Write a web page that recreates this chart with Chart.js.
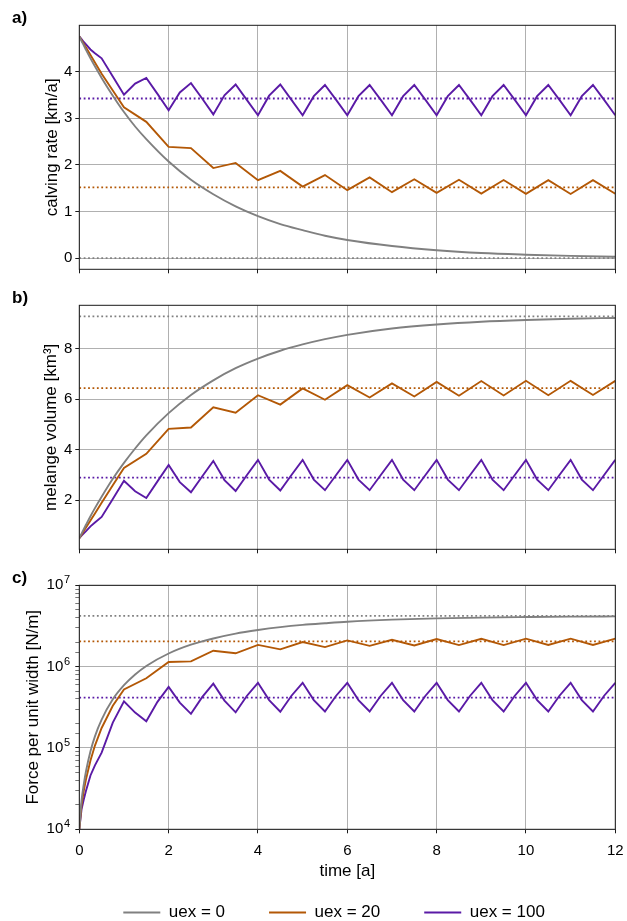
<!DOCTYPE html>
<html><head><meta charset="utf-8">
<script src="https://cdn.jsdelivr.net/npm/chart.js@4/dist/chart.umd.min.js"></script>
<style>
html,body{margin:0;padding:0;background:#fff;}
body{width:627px;height:921px;position:relative;overflow:hidden;font-family:"Liberation Sans",Arial,sans-serif;}
canvas{position:absolute;left:0;}
.lbl{position:absolute;font-weight:bold;font-size:17px;line-height:17px;color:#000;}
</style></head><body>
<canvas id="ca" width="627" height="280" style="top:0;width:627px;height:280px"></canvas>
<canvas id="cb" width="627" height="280" style="top:280px;width:627px;height:280px"></canvas>
<canvas id="cc" width="627" height="371" style="top:560px;width:627px;height:371px"></canvas>
<div class="lbl" style="left:12px;top:9px">a)</div>
<div class="lbl" style="left:12px;top:289px">b)</div>
<div class="lbl" style="left:12px;top:569px">c)</div>
<script>
// ---------------- data ----------------
const seriesLabels = ['uex = 0', 'uex = 20', 'uex = 100'];
const timeRange = [0, 12];
const xTicks = [0, 2, 4, 6, 8, 10, 12];

const timeGray = [0,0.05,0.1,0.15,0.25,0.35,0.5,0.75,1,1.25,1.5,2,2.5,3,3.5,4,4.5,5,5.5,6,7,8,9,10,11,12];
const calvGray = [4.75,4.65,4.56,4.46,4.28,4.11,3.86,3.48,3.13,2.82,2.55,2.07,1.68,1.37,1.11,0.90,0.73,0.60,0.48,0.39,0.26,0.17,0.11,0.075,0.05,0.03];
const volGray = [0.50,0.68,0.86,1.03,1.37,1.69,2.14,2.85,3.48,4.05,4.57,5.45,6.17,6.75,7.23,7.61,7.92,8.17,8.38,8.55,8.80,8.96,9.07,9.14,9.19,9.22];
const forceGray = [1.0e4,2.26e4,3.57e4,5.17e4,9.1e4,1.39e5,2.23e5,3.96e5,5.91e5,8.0e5,1.02e6,1.45e6,1.86e6,2.22e6,2.55e6,2.82e6,3.06e6,3.26e6,3.42e6,3.57e6,3.78e6,3.92e6,4.01e6,4.07e6,4.12e6,4.15e6];

const timeOrange = [0,0.05,0.1,0.15,0.25,0.35,0.5,0.75,1,1.5,2,2.5,3,3.5,4,4.5,5,5.5,6,6.5,7,7.5,8,8.5,9,9.5,10,10.5,11,11.5,12];
const calvOrange = [4.75,4.67,4.59,4.51,4.35,4.19,3.95,3.59,3.23,2.92,2.385,2.357,1.93,2.04,1.67,1.87,1.535,1.78,1.457,1.73,1.414,1.69,1.40,1.68,1.385,1.675,1.38,1.67,1.375,1.67,1.38];
const volOrange = [0.5,0.64,0.78,0.92,1.2,1.48,1.9,2.6,3.28,3.84,4.83,4.88,5.68,5.47,6.16,5.79,6.43,5.98,6.56,6.07,6.63,6.11,6.69,6.14,6.72,6.15,6.73,6.16,6.73,6.17,6.73];
const forceOrange = [1.0e4,2.0e4,2.97e4,4.13e4,7.0e4,1.07e5,1.76e5,3.30e5,5.25e5,7.19e5,1.14e6,1.16e6,1.57e6,1.46e6,1.85e6,1.63e6,2.01e6,1.74e6,2.10e6,1.80e6,2.14e6,1.82e6,2.18e6,1.84e6,2.20e6,1.84e6,2.21e6,1.85e6,2.21e6,1.85e6,2.21e6];

const timePurple = [0,0.05,0.1,0.15,0.25,0.35,0.5,0.75,1,1.25,1.5,1.75,2,2.25,2.5,2.75,3,3.25,3.5,3.75,4,4.25,4.5,4.75,5,5.25,5.5,5.75,6,6.25,6.5,6.75,7,7.25,7.5,7.75,8,8.25,8.5,8.75,9,9.25,9.5,9.75,10,10.25,10.5,10.75,11,11.25,11.5,11.75,12];
const calvPurple = [4.75,4.69,4.63,4.58,4.47,4.39,4.28,3.89,3.50,3.74,3.86,3.52,3.17,3.55,3.75,3.42,3.08,3.49,3.72,3.39,3.06,3.48,3.72,3.39,3.06,
  3.47,3.71,3.39,3.06, 3.47,3.71,3.39,3.06, 3.47,3.71,3.39,3.06, 3.47,3.71,3.39,3.06, 3.47,3.71,3.39,3.06, 3.47,3.71,3.39,3.06, 3.47,3.71,3.39,3.06];
const volPurple = [0.5,0.6,0.69,0.78,0.97,1.12,1.34,2.05,2.77,2.36,2.09,2.75,3.40,2.72,2.32,2.94,3.56,2.80,2.37,2.99,3.60,2.82,2.39,3.00,3.60,
  2.82,2.40,3.00,3.60, 2.82,2.40,3.00,3.60, 2.82,2.40,3.00,3.60, 2.82,2.40,3.00,3.60, 2.82,2.40,3.00,3.60, 2.82,2.40,3.00,3.60, 2.82,2.40,3.00,3.60];
const forcePurple = [1.0e4,1.76e4,2.32e4,2.97e4,4.59e4,6.12e4,8.76e4,2.05e5,3.74e5,2.72e5,2.13e5,3.69e5,5.64e5,3.61e5,2.63e5,4.22e5,6.18e5,3.82e5,2.74e5,4.36e5,6.32e5,3.88e5,2.79e5,4.39e5,6.32e5,
  3.88e5,2.81e5,4.39e5,6.32e5, 3.88e5,2.81e5,4.39e5,6.32e5, 3.88e5,2.81e5,4.39e5,6.32e5, 3.88e5,2.81e5,4.39e5,6.32e5, 3.88e5,2.81e5,4.39e5,6.32e5, 3.88e5,2.81e5,4.39e5,6.32e5, 3.88e5,2.81e5,4.39e5,6.32e5];

// equilibrium (dotted) levels: [uex=0, uex=20, uex=100]
const eqCalving = [0, 1.515, 3.42];
const eqVolume = [9.28, 6.44, 2.90];
const eqForce = [4.2e6, 2.05e6, 4.15e5];

// ---------------- style ----------------
const FONT = "'Liberation Sans', Arial, sans-serif";
Chart.defaults.font.family = FONT;
Chart.defaults.color = '#000';
const COLORS = ['#808080', '#b35806', '#5a1aa6'];
const GRID = '#b0b0b0';
const AX = '#1a1a1a';
const LW = 1.9;

const xy = (ts, vs) => ts.map((t, i) => ({x: t, y: vs[i]}));
function lineDs(k, ts, vs, smooth) {
  return {label: seriesLabels[k], data: xy(ts, vs), borderColor: COLORS[k], backgroundColor: COLORS[k],
    borderWidth: LW, pointRadius: 0, fill: false, tension: 0,
    cubicInterpolationMode: smooth ? 'monotone' : 'default'};
}
function refDs(k, v) {
  return {label: '', ref: true, data: [{x: timeRange[0], y: v}, {x: timeRange[1], y: v}],
    borderColor: COLORS[k], backgroundColor: COLORS[k], borderWidth: 1.8, borderDash: [1.8, 2.6],
    borderCapStyle: 'butt', pointRadius: 0, fill: false};
}
function datasets(ga, oa, pa, eq) {
  return [lineDs(0, timeGray, ga, true), lineDs(1, timeOrange, oa, false), lineDs(2, timePurple, pa, false),
    refDs(0, eq[0]), refDs(1, eq[1]), refDs(2, eq[2])];
}

const frame = {
  id: 'frame',
  afterDatasetsDraw(chart) {
    const {ctx, chartArea: a} = chart;
    ctx.save();
    ctx.strokeStyle = AX; ctx.lineWidth = 1;
    ctx.strokeRect(a.left, a.top, a.right - a.left, a.bottom - a.top);
    ctx.restore();
  }
};

const isDecade = v => { const e = Math.log10(v); return Math.abs(e - Math.round(e)) < 1e-6; };
// exponent of the "10^n" tick labels on the log axis
const exponents = {
  id: 'exponents',
  afterDraw(chart) {
    const s = chart.scales.y;
    const ctx = chart.ctx;
    ctx.save();
    ctx.fillStyle = '#000';
    ctx.font = '11px ' + FONT;
    ctx.textAlign = 'left';
    ctx.textBaseline = 'alphabetic';
    s.ticks.forEach(t => {
      if (!isDecade(t.value)) return;
      const y = s.getPixelForValue(t.value);
      ctx.fillText(String(Math.round(Math.log10(t.value))), s.right - 15.3, y - 2);
    });
    ctx.restore();
  }
};

function options(p) {
  return {
    responsive: false, animation: false, devicePixelRatio: 1, events: [],
    layout: {padding: {top: 25.3, right: 11.7, left: 0, bottom: 0}},
    plugins: {legend: p.legend || {display: false}, tooltip: {enabled: false}},
    scales: {
      x: {
        type: 'linear', min: timeRange[0], max: timeRange[1],
        border: {display: false},
        grid: {color: GRID, lineWidth: 1, drawTicks: true, tickLength: 4, tickColor: AX, tickWidth: 1},
        ticks: {stepSize: 2, display: p.xLabels, font: {size: 15}, color: '#000', padding: 8.5, maxRotation: 0, autoSkip: false},
        afterBuildTicks: s => { s.ticks = xTicks.map(v => ({value: v})); },
        title: p.xTitle ? {display: true, text: 'time [a]', font: {size: 17}, color: '#000', padding: {top: 0, bottom: -21.2}} : {display: false},
        afterFit: s => { s.height = p.xH; s.paddingLeft = 0; s.paddingRight = 0; }
      },
      y: p.y
    }
  };
}

function linY(min, max, step, title, tpad) {
  return {
    type: 'linear', min, max,
    border: {display: false},
    grid: {color: GRID, lineWidth: 1, drawTicks: true, tickLength: 4, tickColor: AX, tickWidth: 1},
    ticks: {stepSize: step, includeBounds: false, font: {size: 15}, color: '#000', padding: 3, autoSkip: false},
    title: {display: true, text: title, font: {size: 17}, color: '#000', padding: {top: tpad, bottom: 0}},
    afterFit: s => { s.width = 79.3; s.paddingTop = 0; s.paddingBottom = 0; }
  };
}
function logY(min, max, title, tpad) {
  return {
    type: 'logarithmic', min, max,
    border: {display: false},
    grid: {
      color: c => (c.tick && isDecade(c.tick.value)) ? GRID : 'rgba(0,0,0,0)',
      lineWidth: 1, drawTicks: true, tickLength: 4, tickColor: AX,
      tickWidth: c => (c.tick && isDecade(c.tick.value)) ? 1 : 0.6
    },
    ticks: {font: {size: 15}, color: '#000', padding: 12, autoSkip: false,
      callback: v => isDecade(v) ? '10' : ''},
    title: {display: true, text: title, font: {size: 17}, color: '#000', padding: {top: tpad, bottom: 0}},
    afterFit: s => { s.width = 79.3; s.paddingTop = 0; s.paddingBottom = 0; }
  };
}

new Chart(document.getElementById('ca'), {
  type: 'line',
  data: {datasets: datasets(calvGray, calvOrange, calvPurple, eqCalving)},
  options: options({xLabels: false, xTitle: false, xH: 10.7, y: linY(-0.2375, 4.9875, 1, 'calving rate [km/a]', 42.3)}),
  plugins: [frame]
});

new Chart(document.getElementById('cb'), {
  type: 'line',
  data: {datasets: datasets(volGray, volOrange, volPurple, eqVolume)},
  options: options({xLabels: false, xTitle: false, xH: 10.7, y: linY(0.06, 9.72, 2, 'melange volume [km³]', 40.8)}),
  plugins: [frame]
});

new Chart(document.getElementById('cc'), {
  type: 'line',
  data: {datasets: datasets(forceGray, forceOrange, forcePurple, eqForce)},
  options: options({
    xLabels: true, xTitle: true, xH: 30.7,
    y: logY(1e4, 1e7, 'Force per unit width [N/m]', 23.1),
    legend: {
      display: true, position: 'bottom', align: 'start', fullSize: false,
      labels: {
        boxWidth: 37, boxHeight: 2, padding: 44, color: '#000', font: {size: 17},
        generateLabels: chart => chart.data.datasets
          .map((ds, i) => ({ds, i}))
          .filter(o => !o.ds.ref)
          .map(({ds, i}) => ({text: ds.label, fillStyle: ds.borderColor, strokeStyle: ds.borderColor,
            lineWidth: 0, hidden: false, datasetIndex: i, fontColor: '#000'}))
      }
    }
  }),
  plugins: [frame, exponents]
});
</script>
</body></html>
